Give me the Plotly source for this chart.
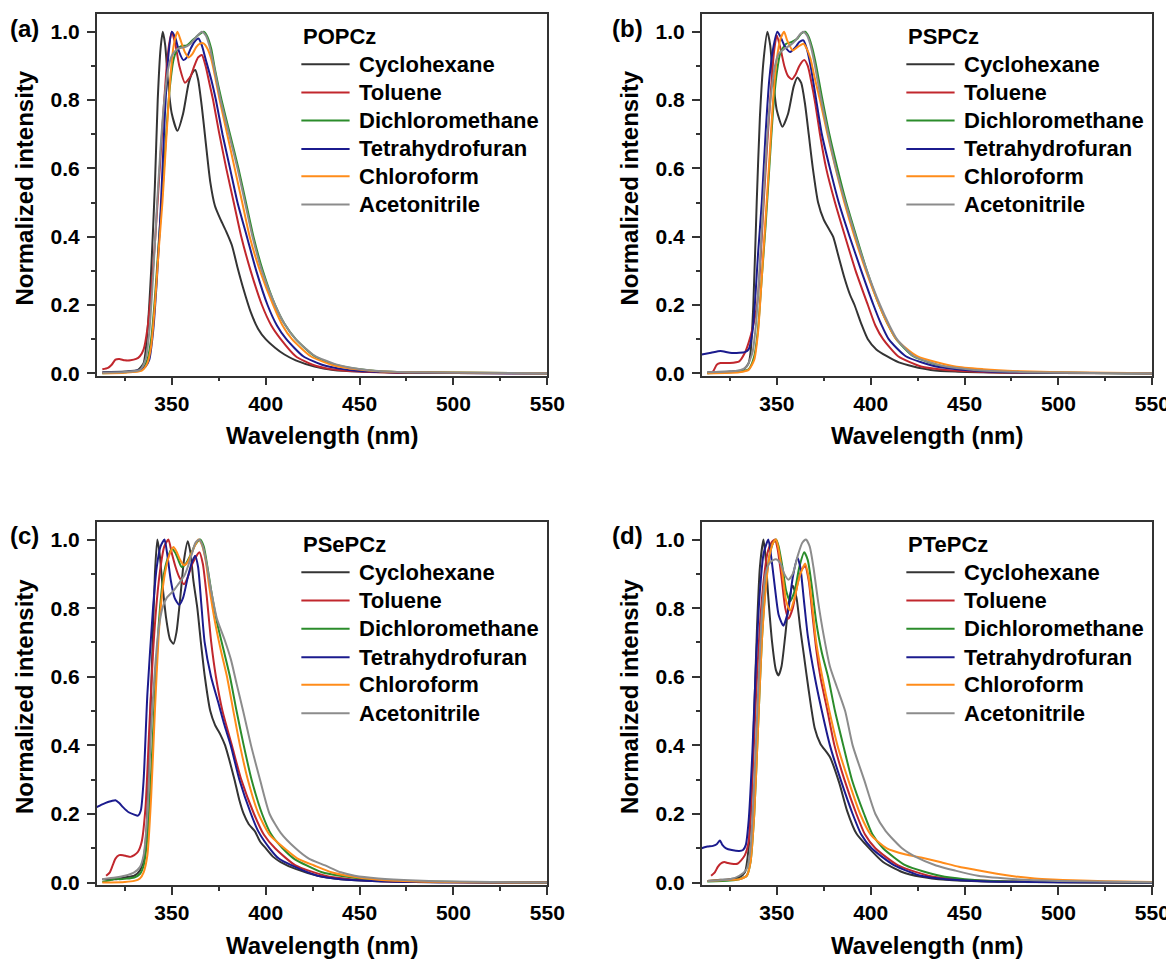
import plotly.graph_objects as go

# the page body adds an 8 px margin, so the figure is drawn 8 px smaller and every pixel spot is shifted by it
OFF = 8
W, H = 1174 - OFF, 960 - OFF

solvents = ["Cyclohexane", "Toluene", "Dichloromethane", "Tetrahydrofuran", "Chloroform", "Acetonitrile"]
colors = ["#343434", "#c1272d", "#2b8c2b", "#1b1b8e", "#ff8c1a", "#8c8c8c"]
compounds = ["POPCz", "PSPCz", "PSePCz", "PTePCz"]
panel_tags = ["(a)", "(b)", "(c)", "(d)"]

# ---------------- (a) POPCz ----------------
a_cyc_nm = [313, 325, 332, 335, 337, 339, 341, 342.5, 344, 345.2, 346.5, 348, 350, 353, 356, 359, 361, 362.5, 364, 366, 368,
            370.5, 373, 376, 379, 382, 385, 388, 392, 396, 400, 405, 410, 416, 426, 436, 450, 470, 500, 550]
a_cyc_int = [0.003, 0.005, 0.01, 0.03, 0.12, 0.3, 0.55, 0.8, 0.95, 1.0, 0.96, 0.85, 0.76, 0.71, 0.76, 0.85, 0.88, 0.888, 0.86,
             0.78, 0.68, 0.56, 0.49, 0.45, 0.415, 0.375, 0.31, 0.25, 0.18, 0.13, 0.1, 0.075, 0.055, 0.038, 0.02, 0.01, 0.005,
             0.002, 0.001, 0.0]
a_tol_nm = [313, 316, 318, 320, 322, 325, 328, 331, 333, 335, 337, 339, 341, 343, 345, 347, 348.5, 350, 352, 354, 357, 360,
            362, 364, 366, 368, 370, 372, 375, 379, 383, 387, 392, 398, 403, 408, 416, 425, 435, 450, 470, 500, 550]
a_tol_int = [0.012, 0.016, 0.025, 0.04, 0.042, 0.038, 0.038, 0.042, 0.05, 0.07, 0.13, 0.24, 0.38, 0.55, 0.72, 0.88, 0.96,
             1.0, 0.96, 0.9, 0.851, 0.87, 0.9, 0.925, 0.932, 0.9, 0.85, 0.8, 0.71, 0.6, 0.5, 0.4, 0.3, 0.2, 0.14, 0.1, 0.05,
             0.025, 0.012, 0.005, 0.002, 0.001, 0.0]
a_dcm_nm = [313, 325, 334, 337, 339, 341, 343, 345, 347, 349, 351, 353, 355, 358, 361, 364, 367, 369, 371, 373, 376.5, 381,
            385.5, 389.5, 393.5, 398.5, 405, 410, 416, 426, 437, 447, 460, 480, 550]
a_dcm_int = [0.0, 0.003, 0.01, 0.04, 0.1, 0.22, 0.38, 0.53, 0.7, 0.84, 0.92, 0.95, 0.958, 0.96, 0.975, 0.99, 1.0, 0.985, 0.95,
             0.89, 0.8, 0.7, 0.6, 0.5, 0.4, 0.3, 0.2, 0.145, 0.1, 0.05, 0.025, 0.014, 0.006, 0.003, 0.0]
a_thf_nm = [313, 325, 333, 336, 338, 340, 342, 344, 346, 348, 350, 352, 354, 356.2, 358, 360, 362, 364.2, 366, 368, 371,
            373.5, 377, 381, 385, 390, 395, 401, 406, 411, 420, 430, 440, 450, 470, 500, 550]
a_thf_int = [0.002, 0.004, 0.01, 0.02, 0.04, 0.12, 0.27, 0.47, 0.72, 0.92, 1.0, 0.98, 0.94, 0.917, 0.925, 0.95, 0.97, 0.98,
             0.96, 0.92, 0.86, 0.8, 0.7, 0.6, 0.5, 0.4, 0.3, 0.2, 0.14, 0.1, 0.05, 0.025, 0.013, 0.007, 0.003, 0.001, 0.0]
a_chl_nm = [313, 325, 334, 337, 339, 341, 343, 345, 347, 349, 351, 353, 355, 357, 359, 361, 363, 365, 366.9, 369, 371, 373,
            375.5, 379.5, 383.5, 387.5, 391.5, 397, 404, 409, 414, 424, 435, 445, 460, 480, 550]
a_chl_int = [0.0, 0.002, 0.008, 0.03, 0.08, 0.2, 0.36, 0.5, 0.68, 0.85, 0.96, 1.0, 0.97, 0.94, 0.925, 0.935, 0.955, 0.965,
             0.966, 0.95, 0.92, 0.87, 0.8, 0.7, 0.6, 0.5, 0.4, 0.3, 0.2, 0.14, 0.1, 0.05, 0.025, 0.014, 0.006, 0.003, 0.0]
a_ace_nm = [313, 325, 333, 336, 338, 340, 342, 344, 346, 348, 350, 353, 357, 360, 363, 366, 368, 370, 372, 376, 380.5, 385,
            389, 393, 398, 405, 410, 416, 426, 437, 447, 460, 480, 550]
a_ace_int = [0.002, 0.004, 0.01, 0.04, 0.12, 0.28, 0.48, 0.66, 0.8, 0.89, 0.93, 0.95, 0.955, 0.965, 0.985, 1.0, 0.99, 0.96,
             0.91, 0.8, 0.7, 0.6, 0.5, 0.4, 0.3, 0.2, 0.145, 0.1, 0.052, 0.027, 0.015, 0.007, 0.003, 0.0]

# ---------------- (b) PSPCz ----------------
b_cyc_nm = [313, 325, 332, 335, 336, 337.5, 339.3, 341, 343, 345, 346.5, 348, 350, 353, 356, 359, 361, 363, 365, 367, 369.2,
            372, 375, 378, 380, 383, 386, 389, 391.4, 395, 398.5, 403, 408.6, 415, 422.7, 432, 445, 470, 500, 550]
b_cyc_int = [0.003, 0.005, 0.01, 0.03, 0.06, 0.2, 0.5, 0.75, 0.92, 1.0, 0.96, 0.86, 0.77, 0.722, 0.76, 0.84, 0.866, 0.85,
             0.79, 0.7, 0.6, 0.5, 0.45, 0.42, 0.4, 0.34, 0.28, 0.23, 0.2, 0.145, 0.1, 0.07, 0.05, 0.032, 0.02, 0.01, 0.005,
             0.002, 0.001, 0.0]
b_tol_nm = [313, 316, 318, 320, 325, 330, 333, 335, 337, 339.5, 341, 343, 345, 346.5, 348.5, 350, 352, 354, 356, 358, 360,
            362, 364.6, 366.5, 368.5, 370.5, 373, 376.3, 381, 386.4, 392, 398.5, 402.5, 406.6, 414.6, 426.8, 440, 460, 500, 550]
b_tol_int = [0.0, 0.005, 0.025, 0.03, 0.03, 0.035, 0.06, 0.09, 0.13, 0.2, 0.3, 0.5, 0.68, 0.8, 0.94, 0.99, 0.95, 0.9, 0.87,
             0.861, 0.875, 0.9, 0.917, 0.9, 0.85, 0.79, 0.7, 0.6, 0.5, 0.4, 0.3, 0.2, 0.14, 0.1, 0.05, 0.02, 0.01, 0.004,
             0.001, 0.0]
b_dcm_nm = [313, 330, 335, 338, 340, 342, 344, 346, 348, 350, 352, 355, 358, 361, 363, 365.1, 367, 369, 371, 374, 378,
            382.3, 387, 392.4, 398, 404.5, 409, 413.6, 422.7, 438.9, 455, 480, 550]
b_dcm_int = [0.0, 0.005, 0.012, 0.05, 0.13, 0.28, 0.43, 0.6, 0.77, 0.88, 0.94, 0.965, 0.97, 0.98, 0.995, 1.0, 0.985, 0.95,
             0.9, 0.81, 0.7, 0.6, 0.5, 0.4, 0.3, 0.2, 0.145, 0.1, 0.05, 0.02, 0.01, 0.004, 0.0]
b_thf_nm = [310, 315, 320, 325, 330, 333, 335, 337, 338.3, 340, 342, 344, 346, 348, 350.3, 352, 354, 357.1, 360, 362, 364.2,
            366, 368, 371, 374, 378.3, 383, 388.8, 395, 401.5, 405.5, 409.6, 418.7, 434.8, 450, 470, 500, 550]
b_thf_int = [0.055, 0.06, 0.065, 0.06, 0.06, 0.062, 0.07, 0.12, 0.2, 0.35, 0.5, 0.7, 0.86, 0.95, 1.0, 0.985, 0.96, 0.941,
             0.955, 0.97, 0.975, 0.95, 0.9, 0.8, 0.7, 0.6, 0.5, 0.4, 0.3, 0.2, 0.145, 0.1, 0.05, 0.02, 0.01, 0.004, 0.002, 0.0]
b_chl_nm = [313, 330, 335, 338, 340, 342, 344, 346, 348, 350, 352, 353.9, 355.5, 358.5, 361, 364.2, 366, 368, 370, 373, 377,
            381.3, 386, 391.4, 397.5, 404.5, 409, 413.6, 424.7, 445, 460, 480, 500, 550]
b_chl_int = [0.0, 0.003, 0.01, 0.04, 0.12, 0.28, 0.45, 0.62, 0.8, 0.92, 0.98, 1.0, 0.975, 0.945, 0.955, 0.965, 0.95, 0.92,
             0.87, 0.8, 0.7, 0.6, 0.5, 0.4, 0.3, 0.2, 0.145, 0.1, 0.05, 0.02, 0.012, 0.006, 0.003, 0.0]
b_ace_nm = [313, 330, 334, 337, 339, 341, 343, 345, 347, 349, 351, 354, 357, 360, 362, 364, 366, 368, 370, 373, 377, 381.5,
            386.5, 392, 398, 405, 410, 414, 423, 438, 455, 480, 550]
b_ace_int = [0.003, 0.008, 0.02, 0.06, 0.15, 0.32, 0.52, 0.7, 0.82, 0.9, 0.935, 0.95, 0.96, 0.975, 0.99, 1.0, 0.99, 0.96,
             0.91, 0.82, 0.71, 0.6, 0.5, 0.4, 0.3, 0.2, 0.14, 0.1, 0.05, 0.022, 0.01, 0.004, 0.0]

# ---------------- (c) PSePCz ----------------
c_cyc_nm = [313, 320, 325, 330, 333, 335, 336.5, 338, 339.5, 341, 342.3, 343.5, 345, 347, 349, 350.9, 352.5, 354.5, 356.5,
            358.5, 360, 361.5, 363.6, 365.5, 367.6, 370.5, 373, 376, 378.4, 381, 383.4, 386, 388.3, 391, 394.2, 397, 400.1,
            404, 408, 415.9, 427.7, 440, 460, 500, 550]
c_cyc_int = [0.01, 0.01, 0.015, 0.02, 0.035, 0.07, 0.15, 0.38, 0.65, 0.9, 1.0, 0.96, 0.87, 0.77, 0.71, 0.696, 0.73, 0.83,
             0.94, 0.995, 0.96, 0.88, 0.8, 0.7, 0.6, 0.5, 0.46, 0.43, 0.4, 0.35, 0.3, 0.24, 0.2, 0.17, 0.15, 0.12, 0.1,
             0.075, 0.06, 0.04, 0.02, 0.01, 0.004, 0.001, 0.0]
c_tol_nm = [315, 317, 318.5, 320, 322, 324, 326, 328, 330, 332, 334, 336, 338, 340, 342, 344, 346, 348.2, 350, 352, 354,
            356.5, 358.5, 361, 364.7, 366.5, 368.5, 371, 373.5, 377, 382, 387, 393.8, 399, 405, 415.9, 431.7, 445, 470, 550]
c_tol_int = [0.02, 0.03, 0.05, 0.07, 0.08, 0.08, 0.077, 0.075, 0.08, 0.09, 0.12, 0.22, 0.45, 0.67, 0.82, 0.92, 0.98, 1.0,
             0.96, 0.92, 0.89, 0.87, 0.89, 0.93, 0.963, 0.93, 0.84, 0.7, 0.6, 0.5, 0.4, 0.3, 0.2, 0.14, 0.1, 0.05, 0.02,
             0.01, 0.003, 0.0]
c_dcm_nm = [313, 318, 320, 322, 330, 333, 335, 337, 339, 341, 343, 345, 347, 350, 352, 353.5, 355.3, 357.5, 360, 362.5,
            365.1, 367, 369, 371, 374, 377.5, 381, 384.5, 388.3, 392.5, 398.1, 403, 409, 415, 421.8, 430, 439.6, 455,
            480, 550]
c_dcm_int = [0.002, 0.008, 0.012, 0.01, 0.015, 0.025, 0.05, 0.13, 0.32, 0.55, 0.75, 0.87, 0.93, 0.973, 0.96, 0.94, 0.92,
             0.93, 0.955, 0.985, 1.0, 0.98, 0.92, 0.85, 0.76, 0.68, 0.6, 0.5, 0.4, 0.3, 0.2, 0.14, 0.1, 0.07, 0.05, 0.03,
             0.02, 0.01, 0.004, 0.0]
c_thf_nm = [310, 313, 316, 318, 320, 322, 324, 327, 330, 332, 333.5, 335, 337, 340, 342, 344, 346.1, 347.5, 349.5, 351.5,
            353.9, 356, 358.5, 360.5, 362.4, 364, 365.6, 367.5, 370.9, 375, 378, 381.4, 386, 392.2, 396, 402.1, 407,
            413.9, 427.7, 440, 460, 500, 550]
c_thf_int = [0.22, 0.228, 0.235, 0.238, 0.24, 0.232, 0.22, 0.205, 0.198, 0.195, 0.21, 0.3, 0.55, 0.8, 0.92, 0.98, 1.0,
             0.96, 0.88, 0.83, 0.81, 0.83, 0.89, 0.93, 0.953, 0.92, 0.82, 0.7, 0.6, 0.52, 0.46, 0.4, 0.3, 0.2, 0.15, 0.1,
             0.07, 0.05, 0.02, 0.01, 0.004, 0.001, 0.0]
c_chl_nm = [313, 325, 330, 333, 335, 337, 339, 341, 343, 345, 347, 349, 350.9, 352.5, 354.5, 356.6, 358.5, 360.5, 362.5,
            364.2, 366, 368, 370, 373, 376, 379.4, 382.8, 386.3, 390.5, 396.2, 402, 410, 417, 425.8, 435, 443.5, 460, 480,
            550]
c_chl_int = [0.0, 0.002, 0.005, 0.012, 0.03, 0.08, 0.25, 0.5, 0.72, 0.85, 0.92, 0.96, 0.978, 0.965, 0.94, 0.925, 0.935,
             0.96, 0.985, 1.0, 0.985, 0.94, 0.86, 0.76, 0.68, 0.6, 0.5, 0.4, 0.3, 0.2, 0.14, 0.1, 0.07, 0.05, 0.03, 0.02,
             0.008, 0.003, 0.0]
c_ace_nm = [313, 320, 325, 330, 333, 335, 337, 339, 341, 343, 345, 347.3, 350.8, 353.5, 356.7, 358.5, 360.7, 362.5, 364.6,
            366.5, 368.5, 371, 374, 378, 381.5, 384.5, 388, 392.2, 397, 402.1, 408, 415.9, 423, 431.7, 440, 447.4, 460,
            480, 500, 550]
c_ace_int = [0.01, 0.015, 0.02, 0.03, 0.045, 0.08, 0.2, 0.45, 0.62, 0.74, 0.8, 0.83, 0.85, 0.87, 0.895, 0.92, 0.958, 0.99,
             1.0, 0.98, 0.93, 0.85, 0.77, 0.71, 0.65, 0.58, 0.5, 0.4, 0.3, 0.2, 0.145, 0.1, 0.07, 0.05, 0.03, 0.02, 0.012,
             0.006, 0.003, 0.0]

# ---------------- (d) PTePCz ----------------
d_cyc_nm = [313, 320, 325, 330, 333, 335, 336.5, 338, 339.5, 341, 342.9, 344, 345.5, 347.5, 349.5, 350.9, 352.5, 354.5,
            356.5, 358.5, 360.5, 362.5, 364.5, 367, 370.2, 373.2, 378.3, 383.3, 387.4, 392.4, 398.5, 406.6, 416.7, 426.8,
            440, 460, 500, 550]
d_cyc_int = [0.005, 0.008, 0.01, 0.015, 0.03, 0.1, 0.25, 0.5, 0.75, 0.92, 1.0, 0.95, 0.83, 0.7, 0.62, 0.604, 0.63, 0.72,
             0.82, 0.865, 0.83, 0.74, 0.66, 0.56, 0.45, 0.405, 0.366, 0.29, 0.21, 0.143, 0.104, 0.06, 0.031, 0.017, 0.008,
             0.003, 0.001, 0.0]
d_tol_nm = [315, 317, 318.5, 320, 322, 324, 326, 329, 331, 333, 335, 337, 339, 341, 343, 345, 347, 349, 350.5, 352.5, 354.5,
            356.2, 358.5, 361, 363, 365.1, 367, 369, 371, 373.2, 377, 380.7, 386, 392.4, 397, 402.5, 414.6, 430.8, 445,
            470, 550]
d_tol_int = [0.02, 0.03, 0.045, 0.055, 0.06, 0.057, 0.055, 0.055, 0.065, 0.08, 0.12, 0.3, 0.55, 0.75, 0.88, 0.96, 0.99,
             1.0, 0.97, 0.89, 0.8, 0.769, 0.8, 0.87, 0.91, 0.923, 0.88, 0.78, 0.68, 0.6, 0.5, 0.4, 0.3, 0.2, 0.14, 0.1,
             0.05, 0.02, 0.01, 0.004, 0.0]
d_dcm_nm = [313, 325, 330, 334, 336, 338, 340, 342, 344, 346, 348, 349.6, 351, 353, 355, 357.1, 359.5, 362, 364.6, 366.5,
            368.5, 371, 374, 377.3, 381, 385.4, 390, 396.5, 401, 406.6, 418.7, 436.9, 450, 470, 550]
d_dcm_int = [0.003, 0.006, 0.01, 0.02, 0.06, 0.2, 0.45, 0.7, 0.86, 0.95, 0.99, 1.0, 0.98, 0.92, 0.85, 0.82, 0.85, 0.92,
             0.963, 0.94, 0.87, 0.76, 0.67, 0.6, 0.5, 0.4, 0.3, 0.2, 0.14, 0.1, 0.05, 0.02, 0.01, 0.004, 0.0]
d_thf_nm = [310, 313, 316, 318, 319.7, 321, 323, 326, 330, 332, 333.5, 335, 337, 339, 341, 343, 345.5, 347, 349, 351,
            353.5, 356, 358.5, 361, 362.5, 364.5, 366.5, 370.2, 374, 378.3, 384, 390.4, 395, 400.5, 412.6, 426.8, 440,
            460, 500, 550]
d_thf_int = [0.1, 0.105, 0.107, 0.112, 0.123, 0.11, 0.1, 0.095, 0.092, 0.095, 0.11, 0.18, 0.38, 0.65, 0.85, 0.96, 1.0,
             0.95, 0.86, 0.78, 0.749, 0.79, 0.89, 0.947, 0.92, 0.82, 0.72, 0.6, 0.5, 0.4, 0.3, 0.2, 0.14, 0.1, 0.05, 0.02,
             0.01, 0.004, 0.001, 0.0]
d_chl_nm = [313, 325, 330, 334, 336, 338, 340, 342, 344, 346, 348, 349.6, 351, 353, 355, 357.1, 359.5, 362, 365.1, 367,
            369, 371, 374.2, 378, 382.3, 388, 394.4, 400, 408.6, 418.7, 426.8, 437, 447, 457, 467.2, 477, 487.4, 497,
            507.6, 525, 550]
d_chl_int = [0.005, 0.008, 0.01, 0.02, 0.06, 0.2, 0.45, 0.7, 0.85, 0.95, 0.99, 1.0, 0.97, 0.9, 0.82, 0.793, 0.83, 0.89,
             0.93, 0.89, 0.8, 0.7, 0.6, 0.5, 0.4, 0.3, 0.2, 0.14, 0.1, 0.082, 0.073, 0.06, 0.046, 0.036, 0.026, 0.018,
             0.012, 0.009, 0.007, 0.004, 0.002]
d_ace_nm = [313, 325, 330, 334, 336, 338, 340, 342, 344, 346, 348, 350, 352, 354, 356.2, 358.5, 361, 363.5, 365.5, 367.5,
            369.5, 372, 375, 378.3, 382, 386.4, 390.4, 396.5, 402.5, 408, 416.7, 424, 434.8, 445, 457.1, 477.3, 500, 550]
d_ace_int = [0.005, 0.01, 0.02, 0.04, 0.1, 0.3, 0.55, 0.78, 0.9, 0.93, 0.94, 0.942, 0.93, 0.9, 0.883, 0.9, 0.95, 0.99, 1.0,
             0.98, 0.92, 0.82, 0.72, 0.63, 0.57, 0.5, 0.4, 0.3, 0.2, 0.15, 0.1, 0.075, 0.05, 0.035, 0.02, 0.01, 0.005, 0.001]

panels = [
    [(a_cyc_nm, a_cyc_int), (a_tol_nm, a_tol_int), (a_dcm_nm, a_dcm_int), (a_thf_nm, a_thf_int), (a_chl_nm, a_chl_int), (a_ace_nm, a_ace_int)],
    [(b_cyc_nm, b_cyc_int), (b_tol_nm, b_tol_int), (b_dcm_nm, b_dcm_int), (b_thf_nm, b_thf_int), (b_chl_nm, b_chl_int), (b_ace_nm, b_ace_int)],
    [(c_cyc_nm, c_cyc_int), (c_tol_nm, c_tol_int), (c_dcm_nm, c_dcm_int), (c_thf_nm, c_thf_int), (c_chl_nm, c_chl_int), (c_ace_nm, c_ace_int)],
    [(d_cyc_nm, d_cyc_int), (d_tol_nm, d_tol_int), (d_dcm_nm, d_dcm_int), (d_thf_nm, d_thf_int), (d_chl_nm, d_chl_int), (d_ace_nm, d_ace_int)],
]

# plot frames in screen pixels (left, right, top, bottom)
frames = [(96.7, 547.3, 14, 375.7), (701.7, 1152.3, 14, 375.7),
          (96.7, 547.3, 521.7, 885), (701.7, 1152.3, 521.7, 885)]


def px(x):
    return (x - OFF) / W


def py(y):
    return 1 - (y - OFF) / H


FONT = "Liberation Sans, Arial, sans-serif"
AXIS_COLOR = "#333333"

fig = go.Figure()
layout = dict(width=W, height=H, margin=dict(l=0, r=0, t=0, b=0),
              paper_bgcolor="white", plot_bgcolor="white", showlegend=False,
              font=dict(family=FONT, color="black", weight="bold"))
annotations = []
shapes = []

# legend rows in data units
legend_title_y = 0.985
legend_rows = [0.905, 0.822, 0.740, 0.657, 0.577, 0.494]
leg_x0, leg_x1, leg_text_x = 419, 444.7, 448.6

for i, series in enumerate(panels):
    n = "" if i == 0 else str(i + 1)
    xa, ya = "x" + n, "y" + n
    l, r, t, b = frames[i]
    for k, (nm, inten) in enumerate(series):
        fig.add_trace(go.Scatter(x=nm, y=inten, mode="lines", name=solvents[k],
                                 line=dict(color=colors[k], width=2, shape="spline", smoothing=0.6),
                                 xaxis=xa, yaxis=ya))
    layout["xaxis" + n] = dict(
        domain=[px(l), px(r)], anchor=ya, range=[310, 550], tickvals=[350, 400, 450, 500, 550],
        ticks="outside", ticklen=8, tickwidth=1.5, tickcolor=AXIS_COLOR,
        minor=dict(tickvals=[325, 375, 425, 475, 525], ticks="outside", ticklen=4, tickwidth=1.5, tickcolor=AXIS_COLOR),
        showline=True, linecolor=AXIS_COLOR, linewidth=1.5, mirror=True, showgrid=False, zeroline=False,
        tickfont=dict(size=21, family=FONT, weight="bold"), automargin=False)
    layout["yaxis" + n] = dict(
        domain=[py(b), py(t)], anchor=xa, range=[-0.007, 1.052],
        tickvals=[0, 0.2, 0.4, 0.6, 0.8, 1.0], tickformat=".1f", ticklabelstandoff=3,
        ticks="outside", ticklen=8, tickwidth=1.5, tickcolor=AXIS_COLOR,
        minor=dict(tickvals=[0.1, 0.3, 0.5, 0.7, 0.9], ticks="outside", ticklen=4, tickwidth=1.5, tickcolor=AXIS_COLOR),
        showline=True, linecolor=AXIS_COLOR, linewidth=1.5, mirror=True, showgrid=False, zeroline=False,
        tickfont=dict(size=21, family=FONT, weight="bold"), automargin=False)

    # legend drawn inside each panel
    annotations.append(dict(x=leg_x0, y=legend_title_y, xref=xa, yref=ya, text=compounds[i], showarrow=False,
                            xanchor="left", yanchor="middle", font=dict(size=22, family=FONT, weight="bold")))
    for k, ry in enumerate(legend_rows):
        shapes.append(dict(type="line", xref=xa, yref=ya, x0=leg_x0, x1=leg_x1, y0=ry, y1=ry,
                           line=dict(color=colors[k], width=2)))
        annotations.append(dict(x=leg_text_x, y=ry, xref=xa, yref=ya, text=solvents[k], showarrow=False,
                                xanchor="left", yanchor="middle", font=dict(size=22, family=FONT, weight="bold")))

    # panel tag, axis titles
    tag_x = 24 if i % 2 == 0 else 627
    annotations.append(dict(x=px(tag_x), y=py(t + 14), xref="paper", yref="paper", text=panel_tags[i],
                            showarrow=False, xanchor="center", yanchor="middle",
                            font=dict(size=24, family=FONT, weight="bold")))
    annotations.append(dict(x=px((l + r) / 2), y=py(b + 60), xref="paper", yref="paper",
                            text="Wavelength (nm)", showarrow=False, xanchor="center", yanchor="middle",
                            font=dict(size=24, family=FONT, weight="bold")))
    annotations.append(dict(x=px(l - 72), y=py((t + b) / 2 - 7), xref="paper", yref="paper",
                            text="Normalized intensity", textangle=-90, showarrow=False,
                            xanchor="center", yanchor="middle", font=dict(size=24, family=FONT, weight="bold")))

layout["annotations"] = annotations
layout["shapes"] = shapes
fig.update_layout(**layout)

fig.write_html("out.html")
